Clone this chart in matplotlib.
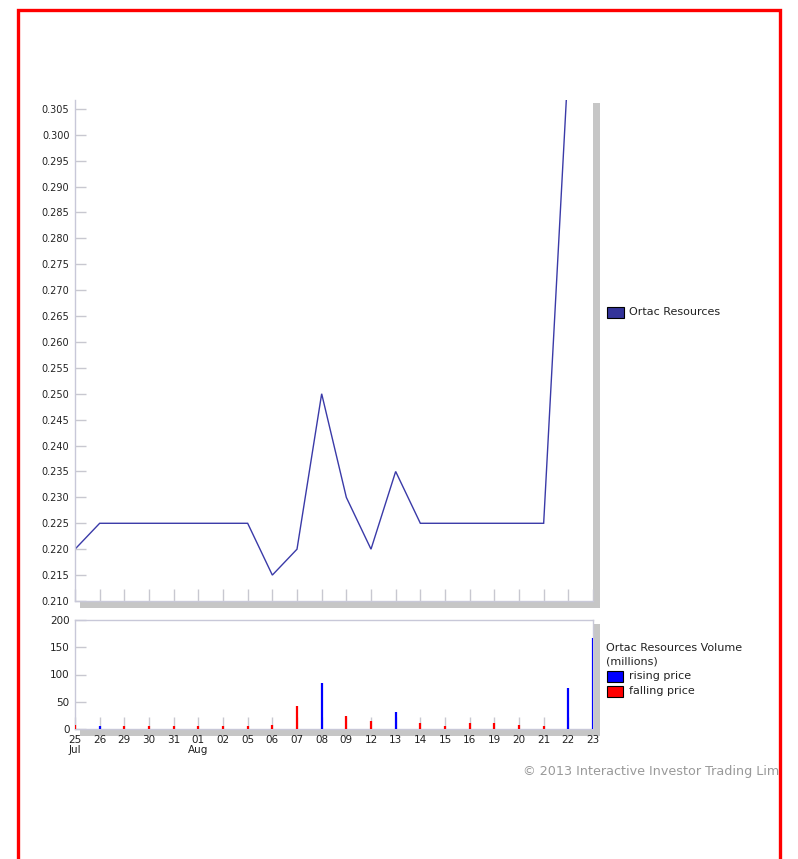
import matplotlib
matplotlib.use("Agg")
import matplotlib.pyplot as plt
from matplotlib.patches import Rectangle

# ---- data ----
dates = ['25', '26', '29', '30', '31', '01', '02', '05', '06', '07', '08',
         '09', '12', '13', '14', '15', '16', '19', '20', '21', '22', '23']
month_labels = {0: 'Jul', 5: 'Aug'}
price = [0.220, 0.225, 0.225, 0.225, 0.225, 0.225, 0.225, 0.225, 0.215, 0.220,
         0.250, 0.230, 0.220, 0.235, 0.225, 0.225, 0.225, 0.225, 0.225, 0.225,
         0.314, 0.345]
volume = [8, 5, 5, 5, 5, 5, 5, 5, 8, 43, 84, 23, 15, 31, 11, 5, 11, 11, 8, 5, 75, 167]
rising = [False, True, False, False, False, False, False, False, False, False, True,
          False, False, True, False, False, False, False, False, False, True, True]
price_ticks = [0.210 + 0.005 * i for i in range(20)]
vol_ticks = [0, 50, 100, 150, 200]
series_name = 'Ortac Resources'

W, H = 798, 859
fig = plt.figure(figsize=(W / 100, H / 100), dpi=100)
plt.rcParams['font.family'] = ['DejaVu Sans']


def fx(px):
    return px / W


def fy(py):
    return 1 - py / H


def rect(x0, y0, x1, y1, **kw):
    fig.add_artist(Rectangle((fx(x0), fy(y1)), fx(x1) - fx(x0), fy(y0) - fy(y1),
                             transform=fig.transFigure, **kw))


spine_c = '#c8c8d8'
tick_c = '#c8c8d0'
txt_c = '#222222'
ax_l, ax_r = 75, 593

# shadows
shadow_c = '#c6c6c6'
rect(593, 103, 600, 608, facecolor=shadow_c, edgecolor='none', zorder=0)
rect(80, 601, 600, 608, facecolor=shadow_c, edgecolor='none', zorder=0)
rect(593, 624, 600, 736, facecolor=shadow_c, edgecolor='none', zorder=0)
rect(80, 729, 600, 736, facecolor=shadow_c, edgecolor='none', zorder=0)

# ---- price axes ----
ax = fig.add_axes([fx(ax_l), fy(601), fx(ax_r) - fx(ax_l), fy(100) - fy(601)])
x = list(range(len(dates)))
ax.plot(x, price, color='#3a3aa8', lw=1.0, solid_joinstyle='miter')
ax.set_xlim(0, len(dates) - 1)
ax.set_ylim(0.210, 0.3067)
ax.set_yticks(price_ticks)
ax.set_yticklabels([f'{v:.3f}' for v in price_ticks])
ax.set_xticks(x)
ax.set_xticklabels([])
ax.tick_params(axis='y', direction='in', length=8, width=1, color=tick_c,
               labelsize=7, labelcolor=txt_c, pad=4)
ax.tick_params(axis='x', direction='in', length=9, width=1, color=tick_c)
for s in ['top', 'right']:
    ax.spines[s].set_visible(False)
for s in ['left', 'bottom']:
    ax.spines[s].set_color(spine_c)
    ax.spines[s].set_linewidth(1)
ax.patch.set_alpha(0)

# ---- volume axes ----
av = fig.add_axes([fx(ax_l), fy(729), fx(ax_r) - fx(ax_l), fy(620) - fy(729)])
colors = ['#0000ff' if r else '#ff0000' for r in rising]
av.vlines(x, 0, volume, colors=colors, lw=1.6, zorder=3)
av.set_xlim(0, len(dates) - 1)
av.set_ylim(0, 200)
av.set_yticks(vol_ticks)
av.set_xticks(x)
av.set_xticklabels([d + ('\n' + month_labels[i] if i in month_labels else '')
                    for i, d in enumerate(dates)], linespacing=1.1)
av.tick_params(axis='y', direction='in', length=8, width=1, color=tick_c,
               labelsize=7.5, labelcolor=txt_c, pad=4)
av.tick_params(axis='x', direction='in', length=9, width=1, color=tick_c,
               labelsize=7.5, labelcolor=txt_c, pad=4)
for lab in av.get_xticklabels():
    lab.set_verticalalignment('top')
for s in ['top', 'right', 'left', 'bottom']:
    av.spines[s].set_color(spine_c)
    av.spines[s].set_linewidth(1)
av.patch.set_alpha(0)

# ---- legends ----
lfs = 8
rect(607, 307, 624, 318, facecolor='#333399', edgecolor='black', lw=0.8)
fig.text(fx(629), fy(312), series_name, fontsize=lfs, color=txt_c, va='center')

fig.text(fx(606), fy(648), series_name + ' Volume', fontsize=lfs, color=txt_c, va='center')
fig.text(fx(606), fy(661), '(millions)', fontsize=lfs, color=txt_c, va='center')
rect(607, 671, 623, 682, facecolor='#0000ff', edgecolor='black', lw=0.8)
fig.text(fx(629), fy(676), 'rising price', fontsize=lfs, color=txt_c, va='center')
rect(607, 686, 623, 697, facecolor='#ff0000', edgecolor='black', lw=0.8)
fig.text(fx(629), fy(691), 'falling price', fontsize=lfs, color=txt_c, va='center')

# ---- copyright (cut off at the frame, as in the original) ----
fig.text(fx(523), fy(772), '\u00a9 2013 Interactive Investor Trading Limited',
         fontsize=9.2, color='#999999', va='center', zorder=3)
rect(780, 755, 800, 790, facecolor='white', edgecolor='none', zorder=5)

# ---- red border ----
rect(17.5, 9.5, 779.5, 880, facecolor='none', edgecolor='#ff0000', lw=2.4,
     clip_on=False, zorder=10)

fig.savefig('out.png', dpi=100)
